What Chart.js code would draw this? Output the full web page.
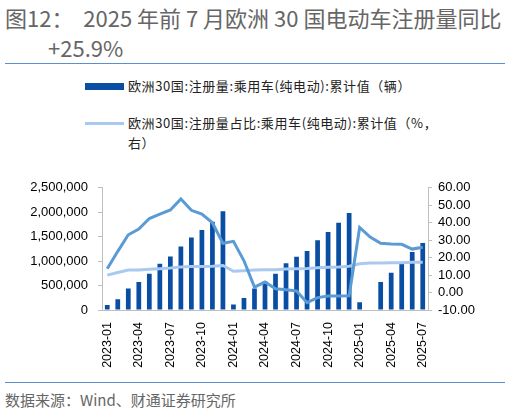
<!DOCTYPE html>
<html>
<head>
<meta charset="utf-8">
<script src="https://cdn.jsdelivr.net/npm/chart.js@4.4.0/dist/chart.umd.min.js"></script>
<style>
  body { margin: 0; width: 510px; height: 413px; background: #fff; position: relative; overflow: hidden;
         font-family: "Noto Sans CJK SC", "Noto Sans", sans-serif; }
  .title { position: absolute; left: 5px; top: 3px; font-size: 22px; color: #666; line-height: 28px; white-space: nowrap; }
  .title2 { position: absolute; left: 48px; top: 33px; font-size: 22px; color: #666; line-height: 28px; }
  .rule { position: absolute; left: 5px; width: 500px; height: 1px; background: #5b8fd0; }
  .lg { position: absolute; font-size: 13px; letter-spacing: 0.6px; color: #222; line-height: 20px; white-space: nowrap; }
  .sw { position: absolute; left: 85px; width: 39px; }
  .src { position: absolute; left: 5px; top: 389px; font-size: 15px; color: #666; }
  #box { position: absolute; left: 0; top: 170px; width: 510px; height: 205px; }
</style>
</head>
<body>
<div class="title">图12：&nbsp;&nbsp;2025 年前 7 月欧洲 30 国电动车注册量同比</div>
<div class="title2">+25.9%</div>
<div class="rule" style="top:63px"></div>

<div class="sw" style="top:83px;height:7px;background:#0a4ea3"></div>
<div class="lg" style="left:128px;top:76px">欧洲30国:注册量:乘用车(纯电动):累计值（辆）</div>
<div class="sw" style="top:122px;height:3px;background:#a9c9f0"></div>
<div class="lg" style="left:128px;top:113px">欧洲30国:注册量占比:乘用车(纯电动):累计值（%，<br>右）</div>

<div id="box"><canvas id="chart"></canvas></div>

<div class="rule" style="top:382px"></div>
<div class="src">数据来源：Wind、财通证券研究所</div>

<script>
const months = [
  '2023-01','2023-02','2023-03','2023-04','2023-05','2023-06','2023-07','2023-08','2023-09','2023-10','2023-11','2023-12',
  '2024-01','2024-02','2024-03','2024-04','2024-05','2024-06','2024-07','2024-08','2024-09','2024-10','2024-11','2024-12',
  '2025-01','2025-02','2025-03','2025-04','2025-05','2025-06','2025-07'
];

// 累计注册量（辆）
const registrations = [
  100000, 221000, 442000, 571000, 740000, 948000, 1097000, 1299000, 1481000, 1636000, 1805000, 2020000,
  110000, 247000, 442000, 584000, 740000, 955000, 1091000, 1208000, 1429000, 1597000, 1786000, 1987000,
  156000, null, 571000, 760000, 942000, 1188000, 1370000
];

// 累计同比（%，右）
const yoy = [
  13.6, 23.6, 33.1, 36.4, 42.4, 44.9, 47.3, 53.6, 47.1, 44.9, 40.0, 28.2,
  29.3, 18.2, 3.1, 6.0, 2.2, 1.6, 0.9, -5.8, -2.9, -2.0, -2.0, -1.8,
  37.3, 31.8, 28.2, 27.8, 27.6, 24.9, 25.9
];

// 注册量占比（%，右）
const share = [
  10.0, 11.5, 12.9, 12.9, 13.3, 13.6, 14.0, 14.7, 14.9, 14.9, 15.1, 15.5,
  12.2, 12.5, 12.9, 13.1, 13.1, 13.5, 13.6, 13.8, 14.2, 14.5, 14.7, 15.1,
  16.5, 16.9, 16.9, 17.1, 17.1, 17.3, 17.3
];

const tickFont = { family: 'Liberation Sans, Arial, sans-serif', size: 13 };
const axisColor = '#bfbfbf';

new Chart(document.getElementById('chart').getContext('2d'), {
  data: {
    labels: months,
    datasets: [
      {
        type: 'line',
        label: '同比',
        data: yoy,
        yAxisID: 'y1',
        borderColor: '#5b9bd5',
        borderWidth: 3,
        pointRadius: 0,
        tension: 0,
        order: 1
      },
      {
        type: 'line',
        label: '欧洲30国:注册量占比:乘用车(纯电动):累计值（%，右）',
        data: share,
        yAxisID: 'y1',
        borderColor: '#a9c9f0',
        borderWidth: 3,
        pointRadius: 0,
        tension: 0,
        order: 2
      },
      {
        type: 'bar',
        label: '欧洲30国:注册量:乘用车(纯电动):累计值（辆）',
        data: registrations,
        yAxisID: 'y',
        backgroundColor: '#0a4ea3',
        barPercentage: 0.45,
        categoryPercentage: 1,
        order: 3
      }
    ]
  },
  options: {
    responsive: true,
    maintainAspectRatio: false,
    animation: false,
    layout: { padding: { top: 12, left: 0, right: 0, bottom: 0 } },
    plugins: {
      legend: { display: false },
      tooltip: { enabled: false }
    },
    scales: {
      x: {
        offset: true,
        grid: { display: false },
        border: { color: axisColor, width: 1 },
        ticks: {
          autoSkip: false,
          maxRotation: 90,
          minRotation: 90,
          font: { family: 'Liberation Sans, Arial, sans-serif', size: 12.5 },
          color: '#000',
          padding: 4,
          callback: function (v, i) { return i % 3 === 0 ? months[i] : ''; }
        },
        afterFit: function (s) { s.height = 65; }
      },
      y: {
        position: 'left',
        min: 0,
        max: 2500000,
        grid: { drawOnChartArea: false, color: axisColor, tickLength: 4 },
        border: { color: axisColor },
        ticks: {
          autoSkip: false,
          stepSize: 500000,
          font: tickFont,
          color: '#000',
          padding: 10,
          callback: function (v) { return v.toLocaleString('en-US'); }
        },
        afterFit: function (s) { s.width = 102; }
      },
      y1: {
        position: 'right',
        min: -10,
        max: 60,
        grid: { drawOnChartArea: false, color: axisColor, tickLength: 4 },
        border: { color: axisColor },
        ticks: {
          autoSkip: false,
          stepSize: 10,
          font: tickFont,
          color: '#000',
          padding: 6,
          callback: function (v) { return v.toFixed(2); }
        },
        afterFit: function (s) { s.width = 82; }
      }
    }
  }
});
</script>
</body>
</html>
